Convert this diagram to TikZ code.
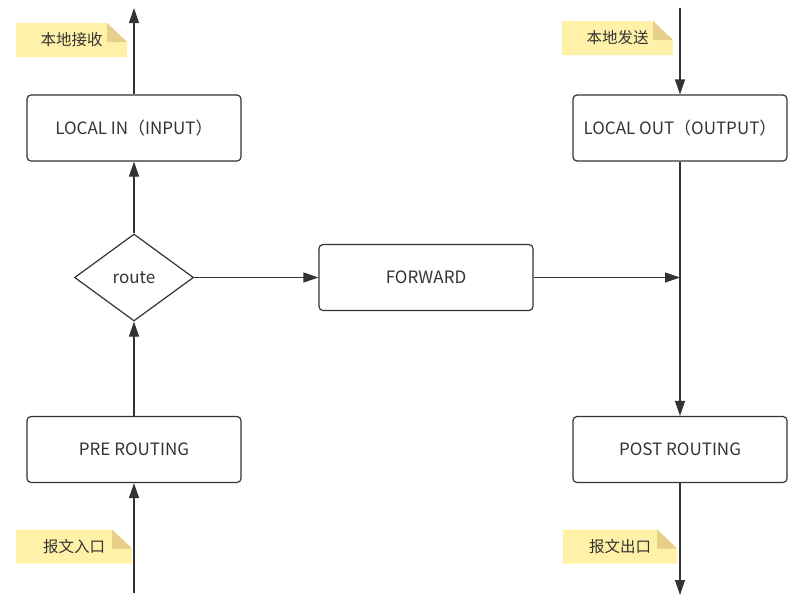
\documentclass[tikz,border=0pt]{standalone}
\usepackage{fontspec}
\setmainfont{Noto Sans CJK SC}
\usetikzlibrary{shapes.geometric,arrows.meta}
\definecolor{ink}{HTML}{333333}
\definecolor{notefill}{HTML}{FFF2A8}
\definecolor{foldfill}{HTML}{E6D089}
\begin{document}
\begin{tikzpicture}[x=1pt, y=-1pt,
  every node/.style={font=\fontsize{17}{19}\selectfont, text=ink},
  box/.style={draw=ink, line width=1.2pt, rounded corners=4pt, minimum width=214pt, minimum height=66pt, inner sep=0pt},
  choice/.style={draw=ink, line width=1.2pt, diamond, minimum width=119pt, minimum height=87pt, inner sep=0pt},
  note/.style={minimum width=#1, minimum height=34pt, inner sep=0pt, font=\fontsize{15.5}{17}\selectfont,
    path picture={
      \fill[notefill] (path picture bounding box.south west) -- (path picture bounding box.north west)
        -- ([xshift=-20pt]path picture bounding box.north east) -- ([yshift=-19pt]path picture bounding box.north east)
        -- (path picture bounding box.south east) -- cycle;
      \fill[foldfill] ([xshift=-20pt]path picture bounding box.north east) -- ([xshift=-20pt,yshift=-19pt]path picture bounding box.north east)
        -- ([yshift=-19pt]path picture bounding box.north east) -- cycle;}},
  flow/.style={draw=ink, line width=1.2pt, -{Triangle[length=15pt,width=10pt]}}]

\useasboundingbox (0,0) rectangle (803,603);

\node[box] (in) at (134,128) {LOCAL IN（INPUT）};
\node[box] (out) at (680,128) {LOCAL OUT（OUTPUT）};
\node[box] (fwd) at (426,277.5) {FORWARD};
\node[box] (pre) at (134,449.5) {PRE ROUTING};
\node[box] (post) at (680,449.5) {POST ROUTING};
\node[choice] (route) at (134,277.5) {route};

\node[note=111pt] (recv) at (71.5,40) {本地接收};
\node[note=111pt] (send) at (617.5,38) {本地发送};
\node[note=116pt] (entry) at (74,546.5) {报文入口};
\node[note=114pt] (exit) at (620,546.5) {报文出口};

\coordinate (inTop) at (134,8);
\coordinate (inBot) at (134,593);
\coordinate (outTop) at (680,8);
\coordinate (outBot) at (680,595);
\coordinate (merge) at (680,277.5);

\foreach \a/\b in {inBot/pre, pre/route, route/in, in/inTop, outTop/out, out/post, post/outBot} {\draw[flow] (\a) -- (\b);}
\draw[flow] (route) -- (fwd);
\draw[flow] (fwd) -- (merge);

\end{tikzpicture}
\end{document}
